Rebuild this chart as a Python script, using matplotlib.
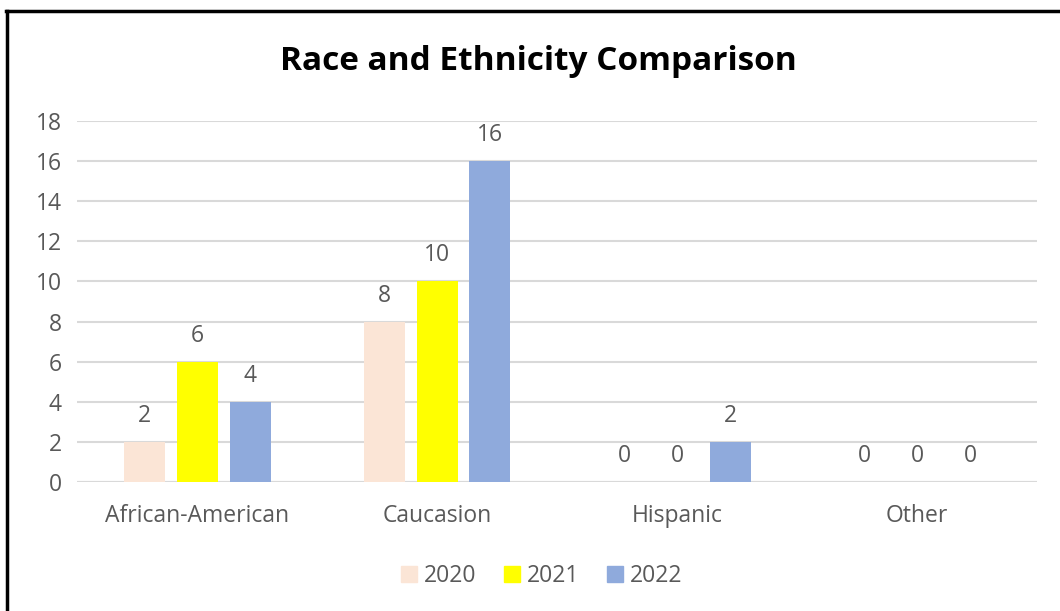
import matplotlib
matplotlib.use("Agg")
import matplotlib.pyplot as plt
import numpy as np
from matplotlib.patches import Rectangle
from matplotlib.lines import Line2D

categories = ["African-American", "Caucasion", "Hispanic", "Other"]
years = ["2020", "2021", "2022"]
values_2020 = [2, 8, 0, 0]
values_2021 = [6, 10, 0, 0]
values_2022 = [4, 16, 2, 0]
colors = ["#FBE5D6", "#FFFF00", "#8FAADC"]
yticks = [0, 2, 4, 6, 8, 10, 12, 14, 16, 18]

plt.rcParams['font.family'] = ['Open Sans', 'DejaVu Sans']

fig = plt.figure(figsize=(10.6, 6.11), dpi=100)
ax = fig.add_axes([77/1060, 1 - 482/611, 960/1060, 361/611])

x = np.arange(len(categories))
width = 41/240
step = 53/240
series = [values_2020, values_2021, values_2022]
text_color = "#595959"
fs = 16.5
for i, (vals, col, yr) in enumerate(zip(series, colors, years)):
    pos = x + (i - 1) * step
    ax.bar(pos, vals, width=width, color=col, label=yr, zorder=3)
    for p, v in zip(pos, vals):
        ax.text(p, v + 0.7, str(v), ha="center", va="bottom",
                fontsize=fs, color=text_color, zorder=4)

ax.set_xlim(-0.5, len(categories) - 0.5)
ax.set_ylim(0, 18)
ax.set_yticks(yticks)
ax.set_yticklabels([str(t) for t in yticks], fontsize=fs, color=text_color)
ax.set_xticks(x)
ax.set_xticklabels(categories, fontsize=fs, color=text_color)
ax.tick_params(axis="both", length=0)
ax.tick_params(axis="y", pad=11)
ax.tick_params(axis="x", pad=16)
ax.grid(axis="y", color="#D9D9D9", linewidth=1.5, zorder=0)
for s in ax.spines.values():
    s.set_visible(False)
ax.axhline(0, color="#D9D9D9", linewidth=1.5, zorder=2)

fig.text(538/1060, 1 - 62/611, "Race and Ethnicity Comparison",
         ha="center", va="center", fontsize=24, fontweight="bold", color="black")

handles = [Rectangle((0, 0), 1, 1, color=c) for c in colors]
fig.legend(handles, years, loc="center", bbox_to_anchor=(542/1060, 1 - 576/611),
           ncol=3, frameon=False, fontsize=fs, handlelength=0.7, handleheight=0.7,
           handletextpad=0.3, columnspacing=1.2, labelcolor=text_color)

# frame around the chart (left and top edges)
fig.add_artist(Line2D([7/1060, 7/1060], [0, 1 - 11/611], color="black", linewidth=2.5,
                      transform=fig.transFigure))
fig.add_artist(Line2D([6/1060, 1], [1 - 11/611, 1 - 11/611], color="black", linewidth=2.5,
                      transform=fig.transFigure))

fig.savefig("out.png", dpi=100, facecolor="white")
